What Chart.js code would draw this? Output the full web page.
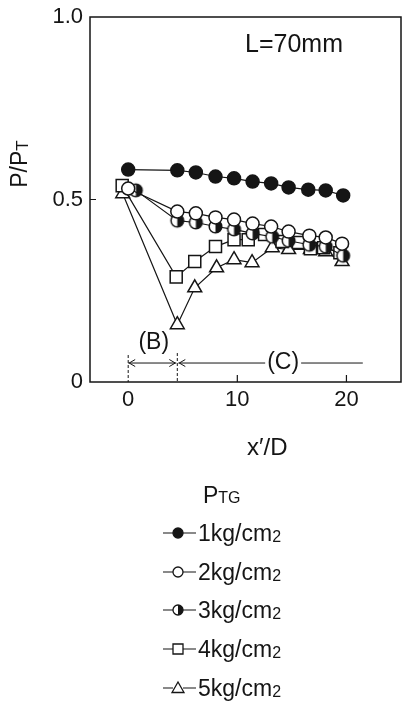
<!DOCTYPE html>
<html>
<head>
<meta charset="utf-8">
<script src="https://cdn.jsdelivr.net/npm/chart.js@4.4.1/dist/chart.umd.min.js"></script>
<style>
  html, body { margin: 0; padding: 0; background: #fff; overflow: hidden; }
  #wrap { width: 402px; height: 704px; position: relative; }
  #chart { display: block; }
</style>
</head>
<body>
<div id="wrap"><canvas id="chart"></canvas></div>
<script>
/* ── data ───────────────────────────────────────────── */
const X_TICKS = [0, 10, 20];
const Y_TICKS = [0, 0.5, 1.0];
const LABELS = ['1kg/cm2', '2kg/cm2', '3kg/cm2', '4kg/cm2', '5kg/cm2'];

const X_1KG = [0, 4.5, 6.2, 8.0, 9.7, 11.4, 13.1, 14.7, 16.5, 18.1, 19.7];
const Y_1KG = [0.582, 0.580, 0.574, 0.563, 0.558, 0.549, 0.544, 0.533, 0.527, 0.525, 0.511];

const X_2KG = [0, 4.5, 6.2, 8.0, 9.7, 11.4, 13.1, 14.7, 16.6, 18.1, 19.6];
const Y_2KG = [0.530, 0.467, 0.462, 0.451, 0.445, 0.434, 0.426, 0.412, 0.401, 0.396, 0.379];

const X_3KG = [0.7, 4.5, 6.2, 8.0, 9.7, 11.4, 13.2, 14.7, 16.6, 18.1, 19.7];
const Y_3KG = [0.525, 0.442, 0.437, 0.426, 0.418, 0.407, 0.398, 0.387, 0.376, 0.371, 0.346];

const X_4KG = [-0.55, 4.4, 6.1, 8.0, 9.7, 11.0, 12.5, 14.1, 15.6, 16.7, 17.9, 19.4];
const Y_4KG = [0.538, 0.288, 0.330, 0.371, 0.390, 0.390, 0.404, 0.385, 0.382, 0.365, 0.368, 0.354];

const X_5KG = [-0.5, 4.5, 6.1, 8.1, 9.7, 11.35, 13.2, 14.7, 16.7, 18.1, 19.6];
const Y_5KG = [0.516, 0.157, 0.258, 0.313, 0.335, 0.327, 0.368, 0.363, 0.363, 0.357, 0.330];

// annotation extents, in data units
const B_RANGE = [0, 4.5];
const C_RANGE = [4.5, 21.5];
const ARROW_Y = 0.052;

/* ── styles ─────────────────────────────────────────── */
const INK = '#151515';
const FONT = "'Liberation Sans', Arial, Helvetica, sans-serif";

function pts(xs, ys) { return xs.map((x, i) => ({ x, y: ys[i] })); }

// half-filled circle marker (right half black)
function halfCircle(r) {
  const s = Math.ceil(r * 2 + 4);
  const c = document.createElement('canvas');
  c.width = c.height = s;
  const g = c.getContext('2d');
  const m = s / 2;
  g.fillStyle = '#fff';
  g.beginPath(); g.arc(m, m, r, 0, Math.PI * 2); g.fill();
  g.fillStyle = INK;
  g.beginPath(); g.arc(m, m, r, -Math.PI / 2, Math.PI / 2); g.closePath(); g.fill();
  g.lineWidth = 1.5; g.strokeStyle = INK;
  g.beginPath(); g.arc(m, m, r, 0, Math.PI * 2); g.stroke();
  return c;
}

const MARKERS = [
  { pointStyle: 'circle', pointRadius: 6.5, pointBackgroundColor: INK },
  { pointStyle: 'circle', pointRadius: 6.5, pointBackgroundColor: '#fff' },
  { pointStyle: halfCircle(6.3), pointRadius: 6.5, pointBackgroundColor: '#fff' },
  { pointStyle: 'rect', pointRadius: 8.5, pointBackgroundColor: '#fff' },
  { pointStyle: 'triangle', pointRadius: 8, pointBackgroundColor: '#fff' },
];
const SERIES = [pts(X_1KG, Y_1KG), pts(X_2KG, Y_2KG), pts(X_3KG, Y_3KG), pts(X_4KG, Y_4KG), pts(X_5KG, Y_5KG)];

// ── legend symbol (small) ─────────────────────────────
function drawSymbol(ctx, kind, x, y) {
  ctx.save();
  ctx.lineWidth = 1.3; ctx.strokeStyle = INK; ctx.fillStyle = '#fff';
  ctx.beginPath();
  if (kind === 3) {
    ctx.rect(x - 5, y - 5, 10, 10);
  } else if (kind === 4) {
    ctx.moveTo(x, y - 6); ctx.lineTo(x + 6, y + 4.5); ctx.lineTo(x - 6, y + 4.5); ctx.closePath();
  } else {
    ctx.arc(x, y, 5, 0, Math.PI * 2);
  }
  if (kind === 0) ctx.fillStyle = INK;
  ctx.fill();
  if (kind === 2) {
    ctx.fillStyle = INK;
    ctx.beginPath(); ctx.arc(x, y, 5, -Math.PI / 2, Math.PI / 2); ctx.closePath(); ctx.fill();
    ctx.beginPath(); ctx.arc(x, y, 5, 0, Math.PI * 2);
  }
  ctx.stroke();
  ctx.restore();
}

// text with a smaller trailing part (subscript look)
function subText(ctx, main, sub, x, y, size, subSize, drop) {
  ctx.font = size + 'px ' + FONT;
  ctx.fillText(main, x, y);
  const w = ctx.measureText(main).width;
  ctx.font = subSize + 'px ' + FONT;
  ctx.fillText(sub, x + w, y + drop);
  return w + ctx.measureText(sub).width;
}

// ── frame, ticks, annotations, legend ────────────────
const decor = {
  id: 'decor',
  afterDraw(chart) {
    const { ctx, chartArea: a, scales: { x, y } } = chart;
    ctx.save();
    ctx.strokeStyle = INK; ctx.fillStyle = INK;

    // frame
    ctx.lineWidth = 1.5;
    ctx.strokeRect(a.left, a.top, a.right - a.left, a.bottom - a.top);

    // inward tick marks
    ctx.lineWidth = 1.2;
    ctx.beginPath();
    const yMid = y.getPixelForValue(Y_TICKS[1]);
    ctx.moveTo(a.left, yMid); ctx.lineTo(a.left + 6, yMid);
    X_TICKS.slice(1).forEach(v => {
      const px = x.getPixelForValue(v);
      ctx.moveTo(px, a.bottom); ctx.lineTo(px, a.bottom - 7);
    });
    ctx.stroke();

    // (B) / (C) region markers
    const ay = y.getPixelForValue(ARROW_Y);
    const xb0 = x.getPixelForValue(B_RANGE[0]);
    const xb1 = x.getPixelForValue(B_RANGE[1]);
    const xc1 = x.getPixelForValue(C_RANGE[1]);
    ctx.lineWidth = 1;
    ctx.setLineDash([3, 2]);
    ctx.beginPath();
    ctx.moveTo(xb0, ay - 8); ctx.lineTo(xb0, a.bottom);
    ctx.moveTo(xb1, ay - 10); ctx.lineTo(xb1, a.bottom);
    ctx.stroke();
    ctx.setLineDash([]);

    ctx.font = '23px ' + FONT;
    ctx.textAlign = 'center';
    ctx.textBaseline = 'middle';
    const cMid = x.getPixelForValue((C_RANGE[0] + C_RANGE[1]) / 2 + 1.2);
    const cHalf = ctx.measureText('(C)').width / 2 + 2;
    ctx.fillText('(B)', (xb0 + xb1) / 2 + 1, ay - 20);
    ctx.fillText('(C)', cMid, ay);

    ctx.beginPath();
    ctx.moveTo(xb0, ay); ctx.lineTo(xb1 - 1, ay);
    ctx.moveTo(xb1 + 1, ay); ctx.lineTo(cMid - cHalf, ay);
    ctx.moveTo(cMid + cHalf, ay); ctx.lineTo(xc1, ay);
    // arrow heads
    ctx.moveTo(xb0 + 7, ay - 3.5); ctx.lineTo(xb0 + 1, ay); ctx.lineTo(xb0 + 7, ay + 3.5);
    ctx.moveTo(xb1 - 8, ay - 3.5); ctx.lineTo(xb1 - 2, ay); ctx.lineTo(xb1 - 8, ay + 3.5);
    ctx.moveTo(xb1 + 8, ay - 3.5); ctx.lineTo(xb1 + 2, ay); ctx.lineTo(xb1 + 8, ay + 3.5);
    ctx.stroke();

    // texts
    ctx.textAlign = 'left';
    ctx.textBaseline = 'alphabetic';
    ctx.font = '25px ' + FONT;
    ctx.fillText('L=70mm', 245, 52);
    ctx.font = '24px ' + FONT;
    ctx.fillText('x\u2032/D', 247, 455);

    // y title, rotated
    ctx.save();
    ctx.translate(27, 164);
    ctx.rotate(-Math.PI / 2);
    ctx.font = '23px ' + FONT;
    const w1 = ctx.measureText('P/P').width;
    ctx.font = '17px ' + FONT;
    const w2 = ctx.measureText('T').width;
    subText(ctx, 'P/P', 'T', -(w1 + w2) / 2, 0, 23, 17, 1);
    ctx.restore();

    // legend
    subText(ctx, 'P', 'TG', 203, 503, 23, 16, 0);
    const rows = [533, 572, 610, 649, 688];
    LABELS.forEach((lab, i) => {
      const ry = rows[i];
      ctx.lineWidth = 1.2;
      ctx.beginPath();
      ctx.moveTo(163, ry); ctx.lineTo(173, ry);
      ctx.moveTo(183, ry); ctx.lineTo(196, ry);
      ctx.stroke();
      drawSymbol(ctx, i, 178, ry);
      subText(ctx, lab.slice(0, -1), lab.slice(-1), 198, ry + 8, 23, 16, 1);
    });
    ctx.restore();
  }
};

new Chart(document.getElementById('chart'), {
  type: 'scatter',
  data: {
    datasets: SERIES.map((d, i) => ({
      label: LABELS[i],
      data: d,
      showLine: true,
      borderColor: INK,
      borderWidth: 1.2,
      pointBorderColor: INK,
      pointBorderWidth: 1.5,
      ...MARKERS[i],
    })),
  },
  options: {
    responsive: true,
    maintainAspectRatio: false,
    animation: false,
    layout: { autoPadding: false, padding: { top: 17, right: 1, left: 0, bottom: 0 } },
    plugins: { legend: { display: false }, tooltip: { enabled: false } },
    scales: {
      x: {
        type: 'linear', min: -3.5, max: 25,
        afterBuildTicks: s => { s.ticks = X_TICKS.map(v => ({ value: v })); },
        afterFit: s => { s.height = 322; s.paddingLeft = 0; s.paddingRight = 0; },
        grid: { display: false, drawTicks: false },
        border: { display: false },
        ticks: { font: { family: FONT, size: 22 }, color: INK, padding: 5, maxRotation: 0, autoSkip: false, callback: v => String(v) },
      },
      y: {
        min: 0, max: 1,
        afterBuildTicks: s => { s.ticks = Y_TICKS.map(v => ({ value: v })); },
        afterFit: s => { s.width = 90; s.paddingTop = 0; s.paddingBottom = 0; },
        grid: { display: false, drawTicks: false },
        border: { display: false },
        ticks: { font: { family: FONT, size: 22 }, color: INK, padding: 7, callback: v => v === 0 ? '0' : v.toFixed(1) },
      },
    },
  },
  plugins: [decor],
});
</script>
</body>
</html>
